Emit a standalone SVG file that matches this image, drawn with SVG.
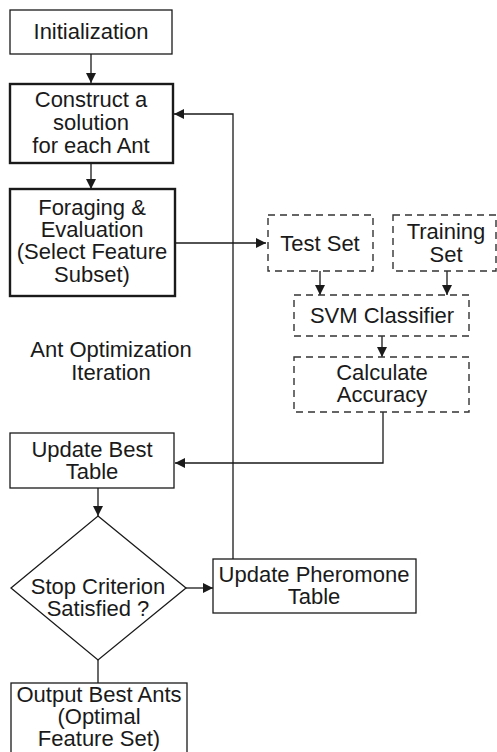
<svg xmlns="http://www.w3.org/2000/svg" width="497" height="752" viewBox="0 0 497 752">
  <defs>
    <marker id="arrow" markerWidth="10" markerHeight="10" refX="10" refY="5" orient="auto" markerUnits="userSpaceOnUse">
      <path d="M0,0 L10,5 L0,10 Z" fill="#1a1a1a"/>
    </marker>
    <style>
      text { font-family: "Liberation Sans", Arial, sans-serif; font-size: 22px; fill: #1a1a1a; text-anchor: middle; }
      .box { fill: #fff; stroke: #1a1a1a; stroke-width: 1.3; }
      .bold { fill: #fff; stroke: #1a1a1a; stroke-width: 2.4; }
      .dash { fill: #fff; stroke: #333; stroke-width: 1.4; stroke-dasharray: 7 5; }
      .link { fill: none; stroke: #1a1a1a; stroke-width: 1.3; }
      .arr { marker-end: url(#arrow); }
    </style>
  </defs>
  <rect width="497" height="752" fill="#fff"/>

  <g id="connectors">
    <line class="link arr" x1="91" y1="54" x2="91" y2="83"/>
    <line class="link arr" x1="91" y1="163" x2="91" y2="189"/>
    <line class="link arr" x1="175" y1="243" x2="266" y2="243"/>
    <line class="link arr" x1="320" y1="271" x2="320" y2="295"/>
    <line class="link arr" x1="447" y1="271" x2="447" y2="295"/>
    <line class="link arr" x1="382" y1="336" x2="382" y2="357"/>
    <polyline class="link arr" points="383,412 383,463 175,463"/>
    <line class="link arr" x1="98" y1="488" x2="98" y2="516"/>
    <line class="link arr" x1="186" y1="588" x2="213" y2="588"/>
    <polyline class="link arr" points="233,559 233,114 174,114"/>
    <line class="link" x1="98" y1="660" x2="98" y2="683"/>
  </g>

  <g id="initialization">
    <rect class="box" x="10" y="10" width="162" height="44"/>
    <text x="91" y="39">Initialization</text>
  </g>

  <g id="construct">
    <rect class="bold" x="10" y="84" width="163" height="79"/>
    <text x="91" y="107">Construct a</text>
    <text x="91" y="130">solution</text>
    <text x="91" y="153">for each Ant</text>
  </g>

  <g id="foraging">
    <rect class="bold" x="10" y="189" width="165" height="107"/>
    <text x="92" y="215">Foraging &amp;</text>
    <text x="92" y="237">Evaluation</text>
    <text x="92" y="259">(Select Feature</text>
    <text x="92" y="282">Subset)</text>
  </g>

  <g id="iteration-label">
    <text x="111" y="357">Ant Optimization</text>
    <text x="111" y="380">Iteration</text>
  </g>

  <g id="test-set">
    <rect class="dash" x="268" y="215" width="105" height="56"/>
    <text x="320" y="251">Test Set</text>
  </g>

  <g id="training-set">
    <rect class="dash" x="393" y="215" width="103" height="56"/>
    <text x="446" y="239">Training</text>
    <text x="446" y="262">Set</text>
  </g>

  <g id="svm">
    <rect class="dash" x="294" y="295" width="175" height="41"/>
    <text x="382" y="323">SVM Classifier</text>
  </g>

  <g id="accuracy">
    <rect class="dash" x="294" y="357" width="175" height="55"/>
    <text x="382" y="380">Calculate</text>
    <text x="382" y="402">Accuracy</text>
  </g>

  <g id="update-best">
    <rect class="box" x="10" y="433" width="164" height="55"/>
    <text x="92" y="457">Update Best</text>
    <text x="92" y="479">Table</text>
  </g>

  <g id="stop-criterion">
    <polygon class="box" points="98,516 186,588 98,660 11,588"/>
    <text x="98" y="594">Stop Criterion</text>
    <text x="98" y="616">Satisfied ?</text>
  </g>

  <g id="update-pheromone">
    <rect class="box" x="213" y="559" width="203" height="54"/>
    <text x="314" y="582">Update Pheromone</text>
    <text x="314" y="604">Table</text>
  </g>

  <g id="output">
    <rect class="box" x="11" y="683" width="176" height="80"/>
    <text x="99" y="702">Output Best Ants</text>
    <text x="99" y="724">(Optimal</text>
    <text x="99" y="746">Feature Set)</text>
  </g>
</svg>
